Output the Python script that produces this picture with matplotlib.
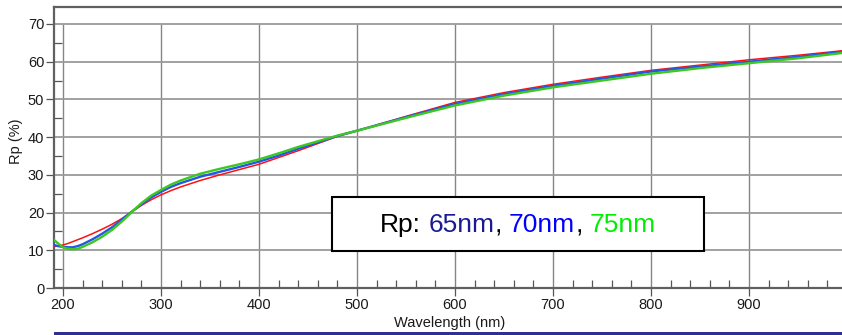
import matplotlib
matplotlib.use("Agg")
import matplotlib.pyplot as plt
from matplotlib.patches import Rectangle
from matplotlib.offsetbox import TextArea, HPacker, AnchoredOffsetbox
from matplotlib.ticker import MultipleLocator

plt.rcParams['font.family'] = ['Liberation Sans', 'DejaVu Sans']

# ---- data ----
wavelength = [191, 195, 200, 205, 210, 215, 220, 230, 240, 250, 260, 270, 280, 290,
              300, 310, 320, 340, 360, 380, 400, 420, 440, 460, 480, 500, 550, 600,
              650, 700, 750, 800, 850, 900, 950, 995]
rp_65 = [11.0, 11.2, 11.4, 11.8, 12.3, 12.8, 13.3, 14.4, 15.6, 16.9, 18.4, 20.2, 21.9, 23.4,
         24.7, 25.8, 26.8, 28.5, 30.0, 31.4, 32.8, 34.6, 36.4, 38.3, 40.2, 41.7, 45.5, 49.2,
         51.8, 54.0, 55.9, 57.7, 59.1, 60.5, 61.7, 62.9]
rp_70 = [11.4, 11.1, 10.9, 10.8, 10.8, 11.1, 11.6, 12.9, 14.4, 16.1, 18.1, 20.2, 22.2, 24.0,
         25.5, 26.8, 27.8, 29.5, 30.8, 32.1, 33.5, 35.1, 36.9, 38.6, 40.3, 41.7, 45.3, 48.8,
         51.4, 53.6, 55.5, 57.4, 58.7, 60.0, 61.3, 62.6]
rp_75 = [12.7, 11.8, 10.8, 10.4, 10.3, 10.4, 10.9, 12.1, 13.6, 15.4, 17.6, 20.1, 22.5, 24.5,
         26.0, 27.4, 28.5, 30.3, 31.6, 32.8, 34.1, 35.7, 37.4, 38.9, 40.4, 41.7, 45.1, 48.4,
         51.0, 53.2, 55.0, 56.8, 58.3, 59.6, 60.9, 62.3]

x_major = [200, 300, 400, 500, 600, 700, 800, 900]
y_major = [0, 10, 20, 30, 40, 50, 60, 70]

W, H = 842, 335
fig = plt.figure(figsize=(W / 100, H / 100), dpi=100)
ax = fig.add_axes([54 / W, 47 / H, (W - 54) / W, 281 / H])

ax.set_xlim(190.8, 995)
ax.set_ylim(0, 74.5)

# grid (stops at 70)
ax.vlines(x_major, 0, 70, colors='#858585', lw=1.0, zorder=1)
ax.hlines(y_major[1:], 190.8, 995, colors='#9a9a9a', lw=1.3, zorder=1)

# curves
ax.plot(wavelength, rp_65, color='#ff1010', lw=1.1, zorder=3)
ax.plot(wavelength, rp_70, color='#2457e6', lw=1.7, zorder=4)
ax.plot(wavelength, rp_75, color='#3cc820', lw=1.7, zorder=5)

# spines
for s in ['left', 'bottom', 'top']:
    ax.spines[s].set_color('#606060')
    ax.spines[s].set_linewidth(1.6)
ax.spines['right'].set_visible(False)

ax.set_xticks(x_major)
ax.set_yticks(y_major)
ax.xaxis.set_minor_locator(MultipleLocator(20))
ax.yaxis.set_minor_locator(MultipleLocator(5))
ax.tick_params(axis='both', which='major', direction='out', length=5.5, width=0.9,
               color='#555555', labelsize=10.5, labelcolor='#1a1a1a')
ax.tick_params(axis='x', which='major', pad=2)
ax.tick_params(axis='y', which='major', pad=1.5)
ax.tick_params(axis='both', which='minor', direction='in', length=5.5, width=0.9,
               color='#555555')
ax.tick_params(top=False, right=False, which='both')

# axis labels
fig.text(450 / W, 1 - 323 / H, 'Wavelength (nm)', ha='center', va='center',
         fontsize=10.5, color='#1a1a1a')
fig.text(16 / W, 1 - 141 / H, 'Rp (%)', ha='center', va='center', rotation=90,
         fontsize=10.5, color='#1a1a1a')

# legend-like box
rect = Rectangle((332 / W, 1 - 251 / H), (704 - 332) / W, (251 - 197) / H,
                 transform=fig.transFigure, facecolor='white', edgecolor='black',
                 lw=1.5, zorder=10)
fig.add_artist(rect)

fs = 19
def ta(s, c):
    return TextArea(s, textprops=dict(color=c, fontsize=fs))
inner1 = HPacker(children=[ta('65nm', '#1a1a96'), ta(',', 'black')], sep=0, pad=0, align='baseline')
inner2 = HPacker(children=[ta('70nm', '#0000ff'), ta(',', 'black')], sep=0, pad=0, align='baseline')
packed = HPacker(children=[ta('Rp:', 'black'), inner1, inner2, ta('75nm', '#00ee00')],
                 sep=5.3, pad=0, align='baseline')
anch = AnchoredOffsetbox(loc='center', child=packed, pad=0, borderpad=0, frameon=False,
                         bbox_to_anchor=(518 / W, 1 - 225 / H),
                         bbox_transform=fig.transFigure)
anch.set_zorder(11)
fig.add_artist(anch)

# bottom blue bar
bar = Rectangle((54 / W, 0), 1 - 54 / W, 3.5 / H, transform=fig.transFigure,
                facecolor='#2e3192', edgecolor='none', zorder=10)
fig.add_artist(bar)

fig.savefig('out.png', dpi=100)
